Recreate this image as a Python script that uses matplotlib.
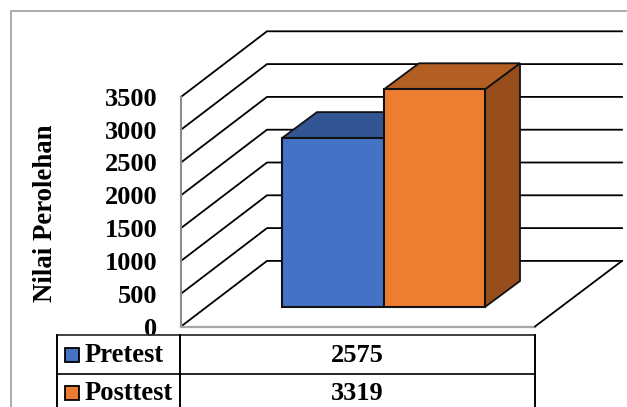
import matplotlib
matplotlib.use('Agg')
import matplotlib.pyplot as plt
from matplotlib.patches import Polygon, Rectangle

categories = ['Pretest', 'Posttest']
values = [2575, 3319]
ticks = [0, 500, 1000, 1500, 2000, 2500, 3000, 3500]
front_colors = ['#4472C4', '#ED7D31']
top_colors = ['#335593', '#B35E22']
side_colors = ['#335593', '#974E1C']

plt.rcParams['font.family'] = 'Liberation Serif'
plt.rcParams['font.weight'] = 'bold'

# x runs in pixels, y in chart units (0.0656 px per unit)
scale = 0.0656
fig = plt.figure(figsize=(6.27, 4.07), dpi=100)
ax = fig.add_axes([0, 0, 1, 1])
ax.set_xlim(0, 627)
ax.set_ylim(-(407 - 326.5) / scale, 326.5 / scale)
ax.axis('off')


def py(p):
    # pixel row to chart units
    return (326.5 - p) / scale


# outer frame
ax.plot([11, 11, 627], [py(407), py(11), py(11)], color='#a6a6a6', lw=1.3)

# walls
wall_left, wall_right = 181, 535
depth_x, depth_y = 86, 1000
for t in ticks:
    ax.plot([wall_left, wall_left + depth_x, wall_right + depth_x + 1],
            [t, t + depth_y, t + depth_y], color='black', lw=1.3, zorder=2)
ax.plot([wall_left, wall_left], [0, ticks[-1]], color='#8c8c8c', lw=1.5, zorder=2)
ax.plot([wall_left, wall_right], [0, 0], color='#a6a6a6', lw=1.6, zorder=2)
ax.plot([wall_right, wall_right + depth_x + 1], [0, depth_y], color='black', lw=1.3, zorder=2)

# bars
bar_edges = [282, 384, 485]
base = py(307)
bar_dx, bar_dy = 35, 396
for i in range(len(values)):
    x0, x1 = bar_edges[i], bar_edges[i + 1]
    top = base + values[i]
    z = 3 + i
    ax.add_patch(Polygon([(x1, base), (x1 + bar_dx, base + bar_dy), (x1 + bar_dx, top + bar_dy), (x1, top)],
                         fc=side_colors[i], ec='#111111', lw=1.3, zorder=z))
    ax.add_patch(Polygon([(x0, top), (x0 + bar_dx, top + bar_dy), (x1 + bar_dx, top + bar_dy), (x1, top)],
                         fc=top_colors[i], ec='#111111', lw=1.3, zorder=z))
    ax.add_patch(Rectangle((x0, base), x1 - x0, values[i],
                           fc=front_colors[i], ec='#111111', lw=1.5, zorder=z))

# axis text
for t in ticks:
    ax.text(157.5, t, str(t), ha='right', va='center_baseline', fontsize=19, zorder=5)
ax.text(46, py(213.5), 'Nilai Perolehan', rotation=90, ha='center', va='center', fontsize=19.3)

# data table under the plot
table_left, table_mid = 57, 180
row_tops = [335, 373.5]
ax.plot([table_left, wall_right], [py(335), py(335)], color='#333333', lw=1.3, zorder=6)
ax.plot([table_left, wall_right], [py(373.5), py(373.5)], color='black', lw=1.2, zorder=6)
for x in [table_left, table_mid, wall_right]:
    ax.plot([x, x], [py(335), py(407)], color='black', lw=1.4, zorder=6)

for i in range(len(categories)):
    ax.add_patch(Rectangle((65, py(row_tops[i] + 26.5)), 14, 14 / scale,
                           fc=front_colors[i], ec='black', lw=1.3, zorder=6))
    ax.text(85, py(row_tops[i] + 26.5), categories[i], ha='left', va='baseline', fontsize=19.2)
    ax.text(357.5, py(row_tops[i] + 26.5), str(values[i]), ha='center', va='baseline', fontsize=19)

fig.savefig('out.png', dpi=100)
